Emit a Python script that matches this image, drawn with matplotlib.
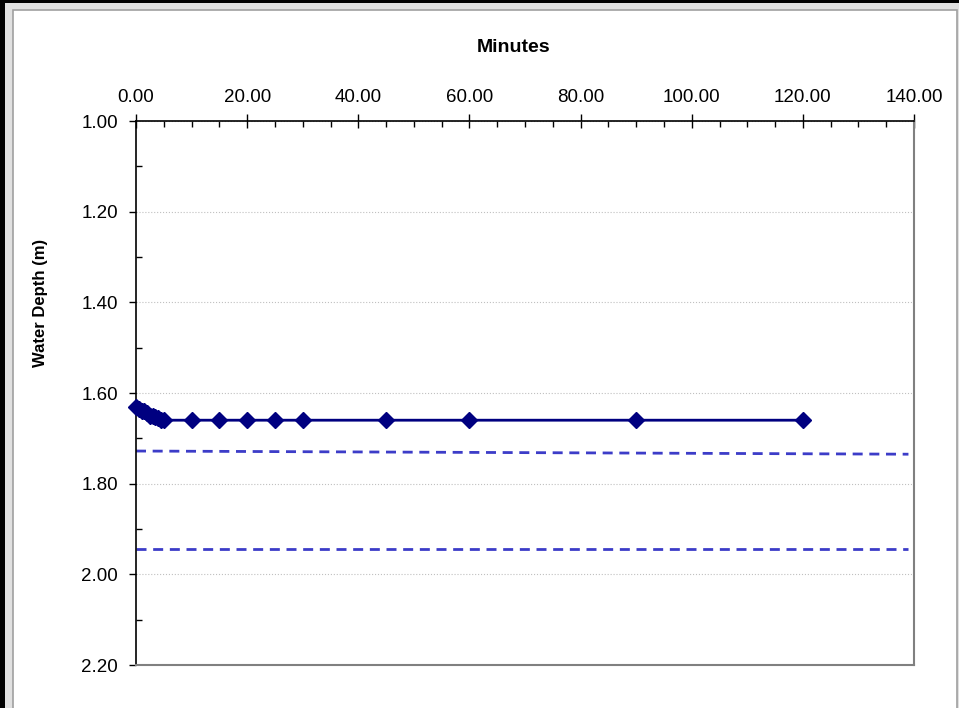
#!/usr/bin/env python3
"""Water depth vs minutes, Excel-style chart with inverted depth axis."""

import matplotlib

matplotlib.use("Agg")
import matplotlib.pyplot as plt
from matplotlib.patches import Rectangle
from matplotlib.ticker import MultipleLocator, FormatStrFormatter

# measured water depth
minutes = [0, 0.5, 1, 1.5, 2, 2.5, 3, 3.5, 4, 4.5, 5,
           10, 15, 20, 25, 30, 45, 60, 90, 120]
depth = [1.63, 1.635, 1.64, 1.64, 1.645, 1.65, 1.65, 1.652, 1.655, 1.66, 1.66,
         1.66, 1.66, 1.66, 1.66, 1.66, 1.66, 1.66, 1.66, 1.66]

# reference levels (dashed)
ref1_x = [0, 139]
ref1_y = [1.728, 1.735]
ref2_x = [0, 139]
ref2_y = [1.944, 1.944]

x_ticks = [0, 20, 40, 60, 80, 100, 120, 140]
y_ticks = [1.00, 1.20, 1.40, 1.60, 1.80, 2.00, 2.20]

W, H = 959, 708
plt.rcParams["font.family"] = ["Liberation Sans", "DejaVu Sans"]

fig = plt.figure(figsize=(W / 100, H / 100), dpi=100, facecolor="#e0e0e0")


def px_rect(x0, y0, x1, y1, **kw):
    # rectangle given in image pixel coords (y down)
    r = Rectangle((x0 / W, 1 - y1 / H), (x1 - x0) / W, (y1 - y0) / H,
                  transform=fig.transFigure, **kw)
    fig.add_artist(r)


px_rect(0, 0, W, 3, facecolor="black", edgecolor="none", zorder=0)
px_rect(0, 0, 5, H, facecolor="black", edgecolor="none", zorder=0)
px_rect(13, 10, 957, H + 5, facecolor="white", edgecolor="#a0a0a0", linewidth=1.2, zorder=0)

ax = fig.add_axes([136 / W, 1 - 665 / H, (914 - 136) / W, (665 - 121) / H])
ax.set_facecolor("white")

ax.plot(ref1_x, ref1_y, color="#3c3cc8", linewidth=2, dashes=(3.6, 2.4), zorder=2)
ax.plot(ref2_x, ref2_y, color="#3c3cc8", linewidth=2, dashes=(3.6, 2.4), zorder=2)
ax.plot(minutes, depth, color="#000080", linewidth=2, marker="D", markersize=8.5,
        markerfacecolor="#000080", markeredgecolor="#000080", zorder=3, clip_on=False)

ax.set_xlim(0, 140)
ax.set_ylim(2.20, 1.00)
ax.xaxis.tick_top()
ax.xaxis.set_label_position("top")
ax.set_xticks(x_ticks)
ax.set_yticks(y_ticks)
ax.xaxis.set_minor_locator(MultipleLocator(5))
ax.yaxis.set_minor_locator(MultipleLocator(0.1))
ax.xaxis.set_major_formatter(FormatStrFormatter("%.2f"))
ax.yaxis.set_major_formatter(FormatStrFormatter("%.2f"))

ax.tick_params(axis="x", which="major", direction="inout", length=10, width=1,
               labelsize=13.5, pad=6, colors="black")
ax.tick_params(axis="y", which="major", direction="out", length=5, width=1,
               labelsize=13.5, pad=8, colors="black")
ax.tick_params(which="minor", direction="in", length=4, width=1, colors="black")
ax.tick_params(axis="x", which="minor", top=True, bottom=False)

for side in ("top", "left"):
    ax.spines[side].set_color("black")
    ax.spines[side].set_linewidth(1.2)
for side in ("right", "bottom"):
    ax.spines[side].set_color("#808080")
    ax.spines[side].set_linewidth(1.5)

ax.yaxis.grid(True, which="major", color="#c0c0c0", linestyle=":", linewidth=0.8)
ax.set_axisbelow(True)

fig.text(514 / W, 1 - 48 / H, "Minutes", ha="center", va="center",
         fontsize=14, fontweight="bold")
fig.text(41 / W, 1 - 303 / H, "Water Depth (m)", ha="center", va="center",
         rotation=90, fontsize=12, fontweight="bold")

fig.savefig("out.png", dpi=100, facecolor=fig.get_facecolor())
